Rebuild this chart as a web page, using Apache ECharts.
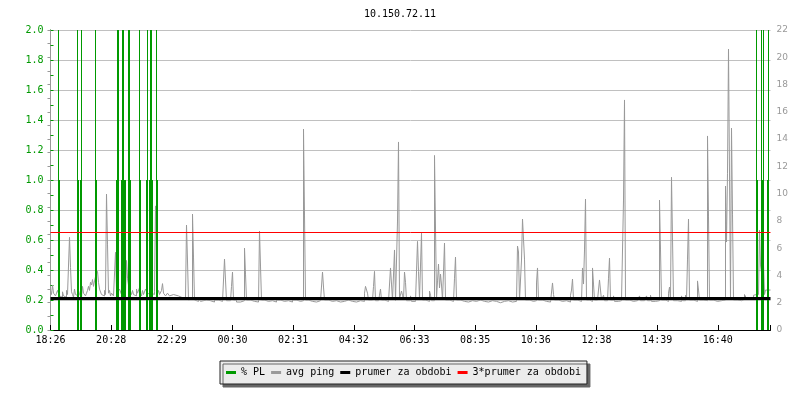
<!DOCTYPE html>
<html><head><meta charset="utf-8">
<script src="https://cdn.jsdelivr.net/npm/echarts@6/dist/echarts.min.js"></script>
<style>html,body{margin:0;padding:0;background:#fff}#c{width:800px;height:400px}</style>
</head><body><div id="c"></div>
<script>
// ---- data (time in minutes from 18:26) ----
const chartTitle = '10.150.72.11';
const timeTickLabels = ['18:26','20:28','22:29','00:30','02:31','04:32','06:33','08:35','10:36','12:38','14:39','16:40'];
const tickStepMin = 121.333;
const spanMin = 1440;
const leftTicks = { min: 0, max: 2, step: 0.2 };
const rightTicks = { min: 0, max: 22, step: 2 };
const seriesNames = ['% PL', 'avg ping', 'prumer za obdobi', '3*prumer za obdobi'];

// % PL events (thick part) and the over-scale thin lines
const plTimes  = [17, 55, 61, 91, 133, 135, 143, 147, 149, 157, 159, 179, 193, 199, 203, 213, 1413, 1423, 1425, 1435];
const plValues = [1, 1, 1, 1, 1, 1, 1, 1, 1, 1, 1, 1, 1, 1, 1, 1, 1, 1, 1, 1];
const plOverTimes  = [16, 54, 62, 90, 134, 136, 144, 146, 156, 158, 178, 194, 200, 202, 212, 1412, 1422, 1426, 1436];
const plOverValues = [2, 2, 2, 2, 2, 2, 2, 2, 2, 2, 2, 2, 2, 2, 2, 2, 2, 2, 2];

// avg ping [minute, ms]
const avgPing = [
[0,2.9],[2,2.6],[4,3.3],[6,2.7],[8,2.8],[10,2.5],[12,2.6],[14,2.9],[16,2.7],[18,2.5],[20,2.6],[22,2.4],[24,2.8],[26,2.5],[28,2.6],[30,2.4],[32,2.9],[34,2.6],[36,2.7],[38,6.8],[40,4.6],[42,2.8],[44,2.6],[46,2.4],[48,3.0],[50,2.6],[52,2.7],[54,2.5],[56,2.9],[58,2.6],[60,2.6],[62,2.4],[64,3.2],[66,2.7],[68,2.8],[70,2.5],[72,2.7],[74,2.9],[76,3.2],[78,2.9],[80,3.5],[82,3.3],[84,3.7],[86,3.2],[88,3.6],[90,3.9],[92,4.0],[94,4.3],[96,3.5],[98,3.0],[100,2.9],[102,2.6],[104,2.7],[106,2.5],[108,2.9],[110,2.6],[112,9.97],[114,6.3],[116,2.7],[118,2.9],[120,2.5],[122,2.7],[124,2.8],[126,2.5],[128,2.6],[130,5.7],[132,3.0],[134,2.8],[136,2.7],[138,3.0],[140,2.9],[142,2.6],[144,2.7],[146,3.0],[148,3.1],[150,2.8],[152,5.1],[154,3.8],[156,3.3],[158,3.0],[160,2.8],[162,2.6],[164,2.9],[166,2.6],[168,2.7],[170,2.5],[172,3.0],[174,2.7],[176,2.8],[178,3.1],[180,2.7],[182,2.5],[184,2.9],[186,2.6],[188,2.7],[190,3.0],[192,3.0],[194,2.7],[196,2.8],[198,2.6],[200,3.0],[202,2.7],[204,2.8],[206,2.6],[208,2.8],[210,9.1],[212,5.8],[214,2.7],[216,2.9],[218,2.6],[220,2.5],[222,2.9],[224,3.4],[226,2.7],[228,2.6],[230,2.5],[234,2.7],[238,2.5],[242,2.6],[246,2.5],[250,2.5],[256,2.4],[262,2.5],[266,2.3],[270,2.2],[272,7.7],[274,5.06],[276,2.2],[280,2.3],[284,8.5],[286,5.35],[288,2.2],[292,2.1],[296,2.3],[300,2.1],
[304,2.2],[312,2.15],[320,2.05],[328,2.2],[336,2.1],[344,2.2],[348,5.2],[350,3.67],[352,2.15],[360,2.1],[362,3.2],[364,4.25],[366,2.2],[372,2.05],[380,2.15],[388,6.0],[390,4.1],[392,2.2],[400,2.1],[408,2.05],[416,2.15],[418,7.26],[420,4.69],[422,2.2],[428,2.1],[436,2.15],[444,2.05],[452,2.2],[460,2.1],[468,2.15],[476,2.05],[484,2.2],[492,2.1],[500,2.15],[506,14.74],[508,8.43],[510,2.2],[516,2.1],[524,2.05],[532,2.15],[540,2.1],[544,4.25],[546,3.15],[548,2.2],[556,2.1],[564,2.15],[572,2.05],[580,2.1],[588,2.2],[596,2.1],[604,2.05],[612,2.15],[620,2.1],[628,2.7],[630,3.2],[632,3.3],[634,2.7],[636,2.2],[644,2.1],[646,3.2],[648,4.3],[650,2.15],[656,2.1],[658,2.55],[660,3.0],[662,2.2],[668,2.1],[676,2.15],[680,4.55],[682,3.37],[684,2.2],[686,4.03],[688,5.87],[690,2.15],[694,7.99],[696,13.79],[698,2.3],[702,2.86],[704,2.55],[706,2.2],[708,4.25],[710,3.5],[712,2.15],[720,2.5],[722,2.1],[730,2.2],[734,6.5],[736,4.3],[738,2.3],[740,4.69],[742,7.1],[744,2.2],[750,2.1],[758,2.86],[760,2.55],[762,2.15],[768,12.8],[770,7.48],[772,2.3],[774,3.6],[776,4.84],[778,3.08],[780,4.1],[782,3.3],[784,2.2],[786,4.25],[788,6.38],[790,2.2],[798,2.1],[806,2.15],[808,3.8],[810,5.35],[812,2.2],[820,2.1],[828,2.05],[836,2.15],[844,2.1],[852,2.2],[860,2.1],[868,2.05],[876,2.15],[884,2.1],[892,2.0],[900,2.1],[908,2.15],[916,2.05],[924,2.1],[932,2.2],[934,6.16],[936,5.72],[938,2.2],[942,5.13],[944,8.14],[946,8.2],[948,5.2],[950,2.2],[958,2.1],[966,2.15],[972,3.45],[974,4.55],[976,2.2],[984,2.1],[992,2.05],[1000,2.15],[1004,3.45],[1006,2.6],[1008,2.2],[1016,2.1],[1024,2.15],[1032,2.05],[1040,2.55],[1042,2.93],[1044,3.74],[1046,2.2],[1054,2.1],[1062,2.2],[1064,4.55],[1066,3.37],[1068,5.87],[1070,9.6],[1072,2.2],[1078,2.1],[1084,4.55],[1086,3.37],[1088,2.2],[1094,2.1],[1098,3.67],[1100,2.93],[1102,2.2],[1106,2.55],[1108,2.15],[1114,2.1],[1116,3.8],[1118,5.28],[1120,2.2],[1126,2.5],[1128,2.1],[1136,2.15],[1142,2.1],[1146,9.53],[1148,16.87],[1150,2.2],[1158,2.1],[1166,2.15],[1174,2.05],[1178,2.5],[1180,2.15],[1188,2.1],[1192,2.5],[1194,2.15],[1200,2.55],[1202,2.1],[1210,2.15],[1218,9.53],[1220,5.87],[1222,2.2],[1230,2.1],[1236,2.7],[1238,3.15],[1240,2.2],[1242,11.2],[1244,6.75],[1246,2.15],[1254,2.1],[1262,2.5],[1264,2.15],[1270,2.55],[1272,2.2],[1274,5.2],[1276,8.14],[1278,2.2],[1286,2.1],[1294,3.6],[1296,2.93],[1298,2.2],[1306,2.15],[1314,14.23],[1316,8.29],[1318,2.2],[1326,2.1],[1334,2.15],[1342,2.2],[1350,10.56],[1352,6.45],[1354,11.5],[1356,20.6],[1358,11.44],[1360,2.3],[1362,14.8],[1364,8.5],[1366,2.2],[1374,2.15],[1382,2.25],[1388,2.6],[1390,2.65],[1392,2.3],[1400,2.4],[1406,2.55],[1408,2.6],[1412,2.45],[1416,2.6],[1418,7.33],[1420,4.77],[1422,4.77],[1424,3.67],[1426,4.77],[1428,2.6],[1430,2.93],[1440,2.93]
];
const prumer = 2.31;   // average for the period (ms)
const prumer3 = 7.15;  // 3 x average (ms)

// ---- style ----
const FONT = 'DejaVu Sans Mono';
const GREEN = '#009900', GRAY = '#999999';

const xBase = {
  type: 'value', min: 0, max: spanMin, interval: tickStepMin, splitLine: { show: false }
};

const chart = echarts.init(document.getElementById('c'), null, { renderer: 'canvas' });
chart.setOption({
  animation: false,
  backgroundColor: '#ffffff',
  title: { text: chartTitle, left: 'center', top: 4,
    textStyle: { fontFamily: FONT, fontSize: 10, fontWeight: 'normal', color: '#000' } },
  grid: { left: 50.5, right: 29.5, top: 30, bottom: 70, containLabel: false },
  legend: {
    data: seriesNames, left: 220, top: 361, icon: 'rect', itemWidth: 10, itemHeight: 3, itemGap: 6,
    padding: [5, 6], backgroundColor: '#ececec', borderColor: '#222', borderWidth: 1,
    shadowColor: '#666', shadowBlur: 0, shadowOffsetX: 3, shadowOffsetY: 3,
    textStyle: { fontFamily: FONT, fontSize: 10, color: '#000', lineHeight: 13 }
  },
  xAxis: [
    Object.assign({}, xBase, {
      axisLine: { show: true, lineStyle: { color: '#000', width: 1 } },
      axisTick: { show: true, inside: true, length: 5, lineStyle: { color: '#000' } },
      axisLabel: { fontFamily: FONT, fontSize: 10, color: '#000', margin: 5,
        formatter: v => timeTickLabels[Math.round(v / tickStepMin)] || '' }
    }),
    Object.assign({}, xBase, { show: false })
  ],
  yAxis: [
    { type: 'value', position: 'left', min: leftTicks.min, max: leftTicks.max, interval: leftTicks.step,
      axisLine: { show: true, lineStyle: { color: GREEN } },
      axisTick: { show: true, inside: true, length: 3, lineStyle: { color: GREEN } },
      minorTick: { show: true, splitNumber: 2, length: 3, lineStyle: { color: GREEN } },
      axisLabel: { fontFamily: FONT, fontSize: 10, color: GREEN, margin: 7, formatter: v => v.toFixed(1) },
      splitLine: { show: true, lineStyle: { color: '#c0c0c0', width: 1 } } },
    { type: 'value', position: 'right', min: rightTicks.min, max: rightTicks.max, interval: rightTicks.step,
      axisLine: { show: true, lineStyle: { color: GRAY } },
      axisTick: { show: true, inside: true, length: 3, lineStyle: { color: GRAY } },
      minorTick: { show: true, splitNumber: 2, length: 3, lineStyle: { color: GRAY } },
      axisLabel: { fontFamily: 'DejaVu Sans', fontSize: 9, color: GRAY, margin: 6 },
      splitLine: { show: false } }
  ],
  series: [
    { name: 'avg ping', type: 'line', xAxisIndex: 0, yAxisIndex: 1, step: 'end', showSymbol: false, symbol: 'none', z: 2,
      itemStyle: { color: GRAY }, lineStyle: { color: GRAY, width: 1 },
      data: avgPing },
    { name: '% PL', type: 'bar', xAxisIndex: 0, yAxisIndex: 0, barWidth: 2, z: 3,
      itemStyle: { color: GREEN },
      data: plTimes.map((t, i) => [t, plValues[i]]) },
    { name: '% PL over', type: 'bar', xAxisIndex: 1, yAxisIndex: 0, barWidth: 1, z: 3,
      itemStyle: { color: GREEN },
      data: plOverTimes.map((t, i) => [t, plOverValues[i]]) },
    { name: 'prumer za obdobi', type: 'line', xAxisIndex: 0, yAxisIndex: 1, showSymbol: false, symbol: 'none', z: 4,
      itemStyle: { color: '#000' }, lineStyle: { color: '#000', width: 3 },
      data: [[0, prumer], [spanMin, prumer]] },
    { name: '3*prumer za obdobi', type: 'line', xAxisIndex: 0, yAxisIndex: 1, showSymbol: false, symbol: 'none', z: 5,
      itemStyle: { color: '#ff0000' }, lineStyle: { color: '#ff0000', width: 1 },
      data: [[0, prumer3], [spanMin, prumer3]] }
  ]
});
</script></body></html>
